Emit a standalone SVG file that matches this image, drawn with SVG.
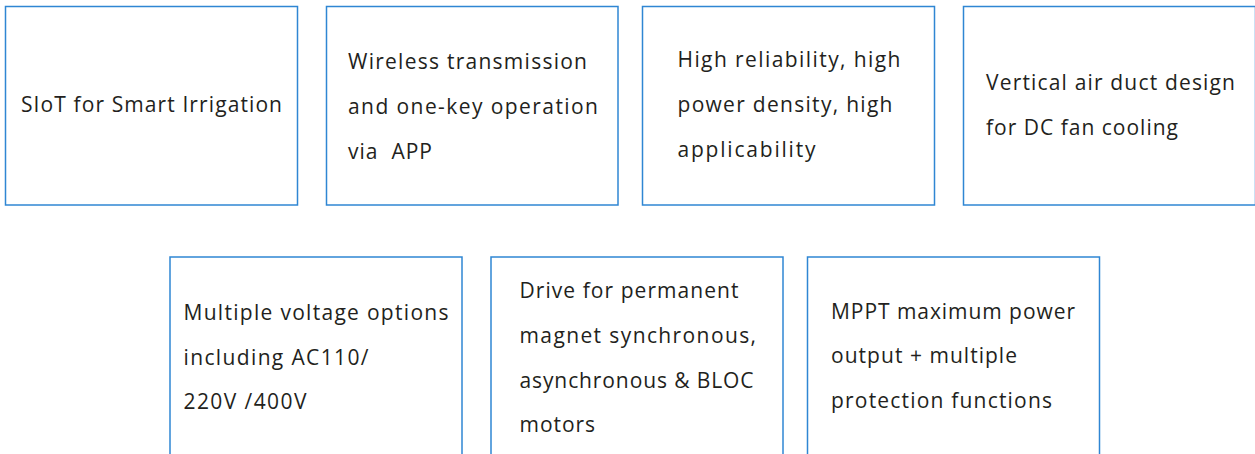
<svg xmlns="http://www.w3.org/2000/svg" width="1255" height="454" viewBox="0 0 1255 454">
<style>
.box{fill:#ffffff;stroke:#2f86d3;stroke-width:1.5}
.t{font-family:"Open Sans","Noto Sans","Liberation Sans",sans-serif;font-size:21px;fill:#231f20;white-space:pre}
</style>
<rect width="1255" height="454" fill="#ffffff"/>
<g id="node1">
<rect class="box" x="5.5" y="6.5" width="292" height="198.5"/>
<text class="t" x="21" y="112" textLength="261" lengthAdjust="spacing">SIoT for Smart Irrigation</text>
</g>
<g id="node2">
<rect class="box" x="326.5" y="6.5" width="291.5" height="198.5"/>
<text class="t" x="348" y="68.5" textLength="239" lengthAdjust="spacing">Wireless transmission</text>
<text class="t" x="348" y="113.5" textLength="250" lengthAdjust="spacing">and one-key operation</text>
<text class="t" x="348" y="158.5" textLength="84" lengthAdjust="spacing" xml:space="preserve">via  APP</text>
</g>
<g id="node3">
<rect class="box" x="642.5" y="6.5" width="292" height="198.5"/>
<text class="t" x="677.5" y="67" textLength="223" lengthAdjust="spacing">High reliability, high</text>
<text class="t" x="677.5" y="112" textLength="215" lengthAdjust="spacing">power density, high</text>
<text class="t" x="677.5" y="157" textLength="138" lengthAdjust="spacing">applicability</text>
</g>
<g id="node4">
<rect class="box" x="963.5" y="6.5" width="292" height="198.5"/>
<text class="t" x="986" y="90" textLength="249" lengthAdjust="spacing">Vertical air duct design</text>
<text class="t" x="986" y="134.5" textLength="192" lengthAdjust="spacing">for DC fan cooling</text>
</g>
<g id="node5">
<rect class="box" x="170" y="257" width="292" height="200"/>
<text class="t" x="183.5" y="320" textLength="265" lengthAdjust="spacing">Multiple voltage options</text>
<text class="t" x="183.5" y="364.5" textLength="185" lengthAdjust="spacing">including AC110/</text>
<text class="t" x="183.5" y="409" textLength="123" lengthAdjust="spacing">220V /400V</text>
</g>
<g id="node6">
<rect class="box" x="491" y="257" width="292" height="200"/>
<text class="t" x="519.5" y="298" textLength="219" lengthAdjust="spacing">Drive for permanent</text>
<text class="t" x="519.5" y="343" textLength="236.5" lengthAdjust="spacing">magnet synchronous,</text>
<text class="t" x="519.5" y="388" textLength="234" lengthAdjust="spacing">asynchronous &amp; BLOC</text>
<text class="t" x="519.5" y="432" textLength="75.5" lengthAdjust="spacing">motors</text>
</g>
<g id="node7">
<rect class="box" x="807.5" y="257" width="292" height="200"/>
<text class="t" x="831" y="318.5" textLength="244" lengthAdjust="spacing">MPPT maximum power</text>
<text class="t" x="831" y="363" textLength="186" lengthAdjust="spacing">output + multiple</text>
<text class="t" x="831" y="407.5" textLength="221" lengthAdjust="spacing">protection functions</text>
</g>
<g id="connectors"></g>
</svg>
